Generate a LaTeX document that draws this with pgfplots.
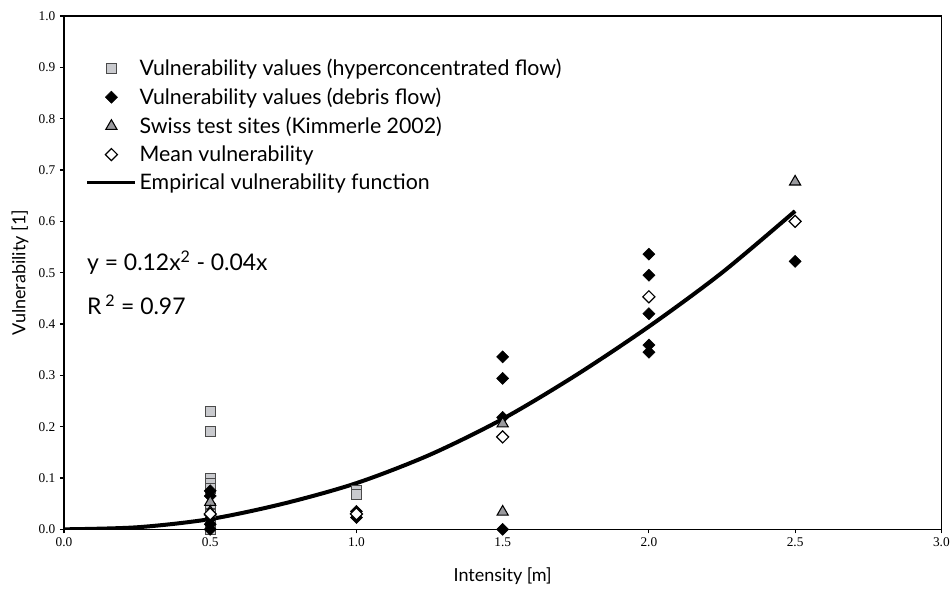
\documentclass[border=0pt]{standalone}
\usepackage{fontspec}
\setmainfont{Lato}
\newfontfamily\tickfont{Liberation Serif}
\usepackage{pgfplots}
\pgfplotsset{compat=1.18}
\usetikzlibrary{calc}

\definecolor{sqfill}{HTML}{C9CACE}
\definecolor{sqdraw}{HTML}{4A4A4A}
\definecolor{trifill}{HTML}{9A9A9E}

\begin{document}
\begin{tikzpicture}
\begin{axis}[
  width=658pt, height=385pt,
  scale only axis,
  xmin=0, xmax=3, ymin=0, ymax=1,
  xtick={0,0.5,...,3}, ytick={0,0.1,...,1.0},
  xtick pos=bottom, ytick pos=left,
  tick align=outside,
  major tick length=3pt,
  axis line style={line width=1.2pt},
  every tick/.style={black, line width=0.8pt},
  ticklabel style={font=\tickfont\fontsize{10}{12}\selectfont},
  /pgf/number format/assume math mode=true,
  /pgf/number format/.cd, fixed, fixed zerofill, precision=1, /pgfplots/.cd,
  xlabel={Intensity [m]},
  ylabel={Vulnerability [1]},
  label style={font=\fontsize{13.5}{15}\selectfont},
  xlabel style={at={(axis description cs:0.5,-0.092)}, anchor=center},
  ylabel style={at={(axis description cs:-0.05,0.5)}, anchor=center, rotate=0},
  legend cell align=left,
  legend style={at={(rel axis cs:0.020,0.927)}, anchor=north west, draw=none, fill=none,
    font=\fontsize{16}{18}\selectfont, row sep=3.75pt},
  marklegend/.style={legend image code/.code={
    \path[draw=none] (0pt,0pt) -- (36pt,0pt);
    \path[##1, only marks] plot coordinates {(18pt,0pt)};}},
]
% hyperconcentrated flow
\addplot[only marks, marklegend, mark=square*, mark size=3.7pt, mark options={fill=sqfill, draw=sqdraw, line width=0.8pt}] coordinates {
  (0.5,0.23) (0.5,0.19) (0.5,0.10) (0.5,0.09) (0.5,0.08) (0.5,0.04) (0.5,0.03) (0.5,0.02) (0.5,0.01) (0.5,0.0)
  (1.0,0.075) (1.0,0.068)
};
\addlegendentry{Vulnerability values (hyperconcentrated flow)}

% debris flow
\addplot[only marks, marklegend, mark=square*, mark size=3.2pt, mark options={rotate=45, fill=black, draw=black}] coordinates {
  (0.5,0.075) (0.5,0.065) (0.5,0.02) (0.5,0.01) (0.5,0.0)
  (1.0,0.035) (1.0,0.023)
  (1.5,0.336) (1.5,0.294) (1.5,0.218) (1.5,0.0)
  (2.0,0.536) (2.0,0.495) (2.0,0.42) (2.0,0.359) (2.0,0.345)
  (2.5,0.522)
};
\addlegendentry{Vulnerability values (debris flow)}

% Swiss test sites
\addplot[only marks, marklegend, mark=triangle*, mark size=4.8pt, mark options={fill=trifill, draw=black, line width=0.8pt}] coordinates {
  (0.5,0.053) (0.5,0.034)
  (1.5,0.206) (1.5,0.034)
  (2.5,0.677)
};
\addlegendentry{Swiss test sites (Kimmerle 2002)}

% mean
\addplot[only marks, marklegend, mark=square*, mark size=3.2pt, mark options={rotate=45, fill=white, draw=black, line width=0.9pt}] coordinates {
  (0.5,0.03) (1.0,0.03) (1.5,0.18) (2.0,0.453) (2.5,0.60)
};
\addlegendentry{Mean vulnerability}

% empirical function
\addplot[black, line width=3pt, smooth, no marks,
  legend image code/.code={\draw[black, line width=2.4pt] (0pt,0pt) -- (36pt,0pt);}] coordinates {
  (0,0) (0.25,0.004) (0.5,0.02) (0.75,0.05) (1.0,0.09) (1.25,0.145) (1.5,0.215)
  (1.75,0.30) (2.0,0.395) (2.25,0.50) (2.5,0.62)
};
\addlegendentry{Empirical vulnerability function}

\node[anchor=west, font=\fontsize{17.2}{19}\selectfont, inner sep=0pt] at (rel axis cs:0.026,0.52) {y = 0.12x\textsuperscript{2} - 0.04x};
\node[anchor=west, font=\fontsize{17.2}{19}\selectfont, inner sep=0pt] at (rel axis cs:0.026,0.437) {R\,\textsuperscript{2} = 0.97};
\end{axis}
\pgfresetboundingbox
\path[use as bounding box] ($(current axis.south west)+(-48pt,-44.25pt)$) rectangle ($(current axis.north east)+(6.5pt,12pt)$);
\end{tikzpicture}
\end{document}
